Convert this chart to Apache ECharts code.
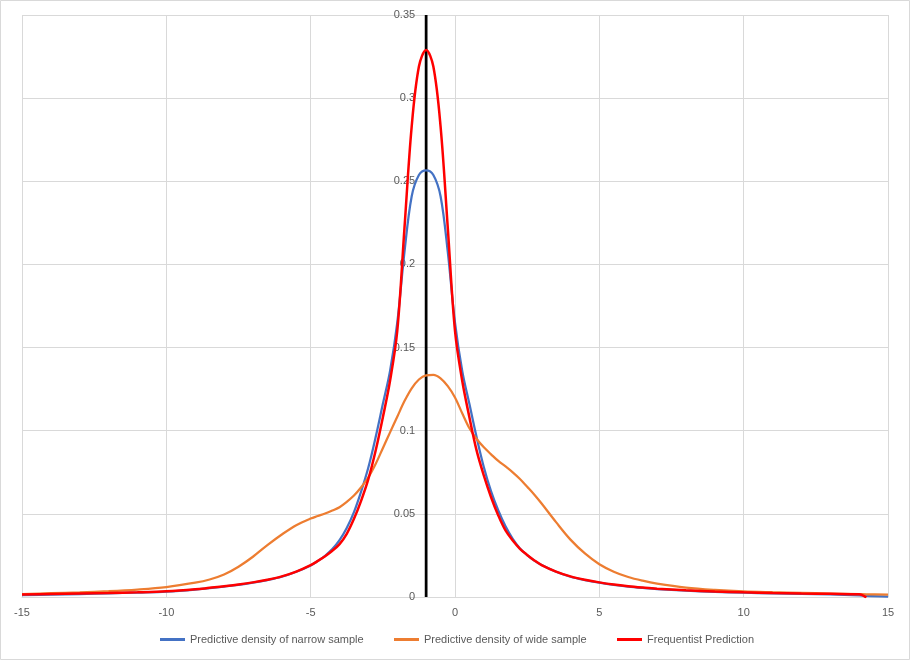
<!DOCTYPE html>
<html><head><meta charset="utf-8">
<script src="https://cdn.jsdelivr.net/npm/echarts@6/dist/echarts.min.js"></script>
<style>html,body{margin:0;padding:0;background:#fff}#chart{width:910px;height:660px}</style>
</head><body><div id="chart"></div>
<script>
// ---- data ----
const xValues = [-15,-14,-13,-12,-11,-10,-9,-8.5,-8,-7.5,-7,-6.5,-6,-5.5,
  -5,-4.75,-4.5,-4.25,-4,-3.75,-3.5,-3.25,-3,-2.75,-2.5,-2.25,-2,-1.75,-1.5,-1.25,-1,
  -0.75,-0.5,-0.25,0,0.25,0.5,0.75,1,1.25,1.5,1.75,2,2.25,2.5,2.75,3,
  3.5,4,4.5,5,5.5,6,6.5,7,
  8,9,10,11,12,13,14,14.25,15];
const narrowDensity = [0.0011,0.0014,0.0018,0.0022,0.0027,0.0033,0.0045,0.0054,0.0063,0.0073,0.0086,0.0102,0.0122,0.0152,
  0.0190,0.0217,0.0248,0.0288,0.0342,0.0415,0.0510,0.0635,0.0780,0.0960,0.1160,0.1360,0.1650,0.2075,0.2410,0.2538,0.2566,
  0.2538,0.2410,0.2075,0.1650,0.1360,0.1160,0.0960,0.0780,0.0635,0.0520,0.0425,0.0350,0.0292,0.0252,0.0219,0.0192,
  0.0152,0.0122,0.0102,0.0086,0.0073,0.0063,0.0055,0.0048,
  0.0038,0.0031,0.0026,0.0022,0.0019,0.0016,0.0010,0.0007,0.0003];
const wideDensity = [0.0018,0.0023,0.0028,0.0035,0.0045,0.0060,0.0086,0.0105,0.0135,0.0182,0.0242,0.0312,0.0376,0.0432,
  0.0472,0.0487,0.0502,0.0520,0.0540,0.0572,0.0610,0.0660,0.0720,0.0800,0.0895,0.0990,0.1084,0.1178,0.1255,0.1308,0.1333,
  0.1336,0.1315,0.1268,0.1200,0.1105,0.1015,0.0950,0.0900,0.0858,0.0818,0.0785,0.0750,0.0710,0.0663,0.0615,0.0562,
  0.0450,0.0345,0.0262,0.0197,0.0152,0.0120,0.0098,0.0081,
  0.0057,0.0043,0.0034,0.0029,0.0025,0.0021,0.0017,0.0016,0.0015];
const frequentistPrediction = [0.0015,0.0018,0.0021,0.0024,0.0028,0.0034,0.0046,0.0055,0.0064,0.0075,0.0088,0.0104,0.0124,0.0153,
  0.0192,0.0217,0.0245,0.0278,0.0318,0.0380,0.0470,0.0580,0.0710,0.0880,0.1080,0.1300,0.1600,0.2220,0.2830,0.3190,0.3290,
  0.3190,0.2830,0.2220,0.1600,0.1300,0.1080,0.0880,0.0730,0.0600,0.0490,0.0400,0.0340,0.0290,0.0253,0.0220,0.0192,
  0.0153,0.0124,0.0104,0.0088,0.0075,0.0065,0.0057,0.0050,
  0.0040,0.0033,0.0028,0.0024,0.0021,0.0019,0.0016,-0.0003,null];
const seriesNames = ['Predictive density of narrow sample','Predictive density of wide sample','Frequentist Prediction'];
const xAxisRange = { min: -15, max: 15, interval: 5 };
const yAxisRange = { min: 0, max: 0.35, interval: 0.05 };
const markerX = -1;              // vertical reference line position
const markerY = [0, 0.35];       // its extent

// ---- chart ----
const FONT = 'Liberation Sans';
const TXT = '#595959';
const GRID = '#d9d9d9';
const pairs = arr => xValues.map((x, i) => [x, arr[i]]).filter(p => p[1] !== null);

const chart = echarts.init(document.getElementById('chart'), null, { renderer: 'canvas' });
const gridLeft = 22;
function legendAt(name, left) {
  return { data: [name], left: left, top: 634, padding: 0, icon: 'rect', itemWidth: 25, itemHeight: 3,
    textStyle: { color: TXT, fontFamily: FONT, fontSize: 11 }, selectedMode: false };
}
const option = {
  animation: false,
  backgroundColor: '#fff',
  textStyle: { fontFamily: FONT },
  grid: { left: gridLeft, right: 22, top: 15, bottom: 63, containLabel: false },
  graphic: [{ type: 'rect', shape: { x: 0.5, y: 0.5, width: 909, height: 659 }, style: { fill: 'none', stroke: GRID, lineWidth: 1 }, silent: true }],
  legend: [legendAt(seriesNames[0], 160), legendAt(seriesNames[1], 394), legendAt(seriesNames[2], 617)],
  xAxis: {
    type: 'value', min: xAxisRange.min, max: xAxisRange.max, interval: xAxisRange.interval,
    axisLine: { show: true, onZero: false, lineStyle: { color: GRID, width: 1 } },
    axisTick: { show: false },
    axisLabel: { color: TXT, fontFamily: FONT, fontSize: 11, margin: 10 },
    splitLine: { show: true, lineStyle: { color: GRID, width: 1 } }
  },
  yAxis: {
    type: 'value', min: yAxisRange.min, max: yAxisRange.max, interval: yAxisRange.interval,
    offset: -404,
    axisLine: { show: false }, axisTick: { show: false },
    axisLabel: { color: TXT, fontFamily: FONT, fontSize: 11, margin: 11,
      formatter: v => String(+v.toFixed(2)) },
    splitLine: { show: true, lineStyle: { color: GRID, width: 1 } }
  },
  series: [
    { name: 'marker', type: 'line', data: markerY.map(y => [markerX, y]), symbol: 'none',
      lineStyle: { color: '#000', width: 2.75 }, z: 1, silent: true },
    { name: seriesNames[0], type: 'line', data: pairs(narrowDensity), smooth: 0.35, symbol: 'none',
      color: '#4472C4', lineStyle: { color: '#4472C4', width: 2.25 }, z: 2 },
    { name: seriesNames[1], type: 'line', data: pairs(wideDensity), smooth: 0.35, symbol: 'none',
      color: '#ED7D31', lineStyle: { color: '#ED7D31', width: 2.25 }, z: 3 },
    { name: seriesNames[2], type: 'line', data: pairs(frequentistPrediction), smooth: 0.35, symbol: 'none',
      color: '#FF0000', lineStyle: { color: '#FF0000', width: 2.5 }, z: 4 }
  ]
};
chart.setOption(option);
// place the value-axis labels beside the reference line
const px = chart.convertToPixel({ xAxisIndex: 0 }, markerX);
chart.setOption({ yAxis: { offset: -(px - gridLeft) } });
</script></body></html>
